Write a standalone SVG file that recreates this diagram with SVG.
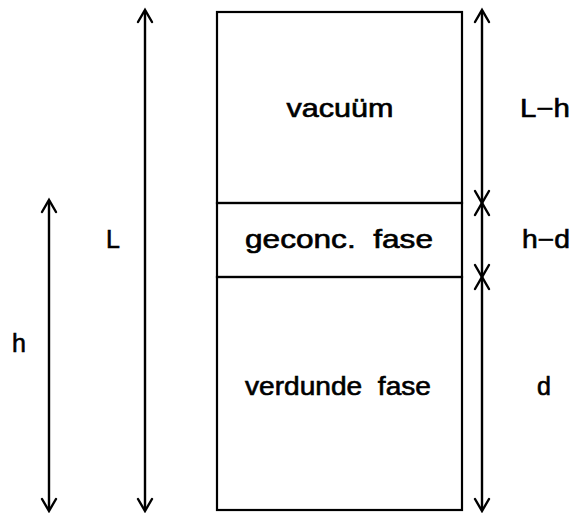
<svg xmlns="http://www.w3.org/2000/svg" width="571" height="513" viewBox="0 0 571 513">
<style>
.box{fill:none;stroke:#000;stroke-width:2.2}
.ln{fill:none;stroke:#000;stroke-width:2.4}
.hd{fill:none;stroke:#000;stroke-width:2.4;stroke-linecap:round;stroke-linejoin:miter}
text{font-family:"Liberation Sans",Arial,sans-serif;font-size:25px;fill:#000;stroke:#000;stroke-width:0.6;text-anchor:middle}
</style>
<defs>
<path id="up" class="hd" d="M-7,12 L0,0 L7,12"/>
<path id="dn" class="hd" d="M-7,-12 L0,0 L7,-12"/>
</defs>
<rect width="571" height="513" fill="#fff"/>
<g id="vacuum">
<rect class="box" x="217" y="12" width="245" height="191"/>
<text x="340" y="117" textLength="107" lengthAdjust="spacingAndGlyphs">vacuüm</text>
</g>
<g id="geconc">
<rect class="box" x="217" y="203" width="245" height="74"/>
<text x="339" y="248" xml:space="preserve" textLength="188" lengthAdjust="spacingAndGlyphs">geconc.  fase</text>
</g>
<g id="verdunde">
<rect class="box" x="217" y="277" width="245" height="233"/>
<text x="338" y="395" xml:space="preserve" textLength="186" lengthAdjust="spacingAndGlyphs">verdunde  fase</text>
</g>
<g id="connectors">
<line class="ln" x1="145" y1="11" x2="145" y2="510"/>
<use href="#up" x="145" y="10"/>
<use href="#dn" x="145" y="511"/>
<line class="ln" x1="49" y1="201" x2="49" y2="510"/>
<use href="#up" x="49" y="200"/>
<use href="#dn" x="49" y="511"/>
<line class="ln" x1="482" y1="11" x2="482" y2="510"/>
<use href="#up" x="482" y="10"/>
<use href="#dn" x="482" y="203"/>
<use href="#up" x="482" y="203"/>
<use href="#dn" x="482" y="277"/>
<use href="#up" x="482" y="277"/>
<use href="#dn" x="482" y="511"/>
</g>
<g id="labels">
<text x="113" y="248">L</text>
<text x="19" y="352">h</text>
<text x="545" y="117" textLength="50" lengthAdjust="spacingAndGlyphs">L−h</text>
<text x="546" y="248" textLength="48" lengthAdjust="spacingAndGlyphs">h−d</text>
<text x="544" y="395">d</text>
</g>
</svg>
